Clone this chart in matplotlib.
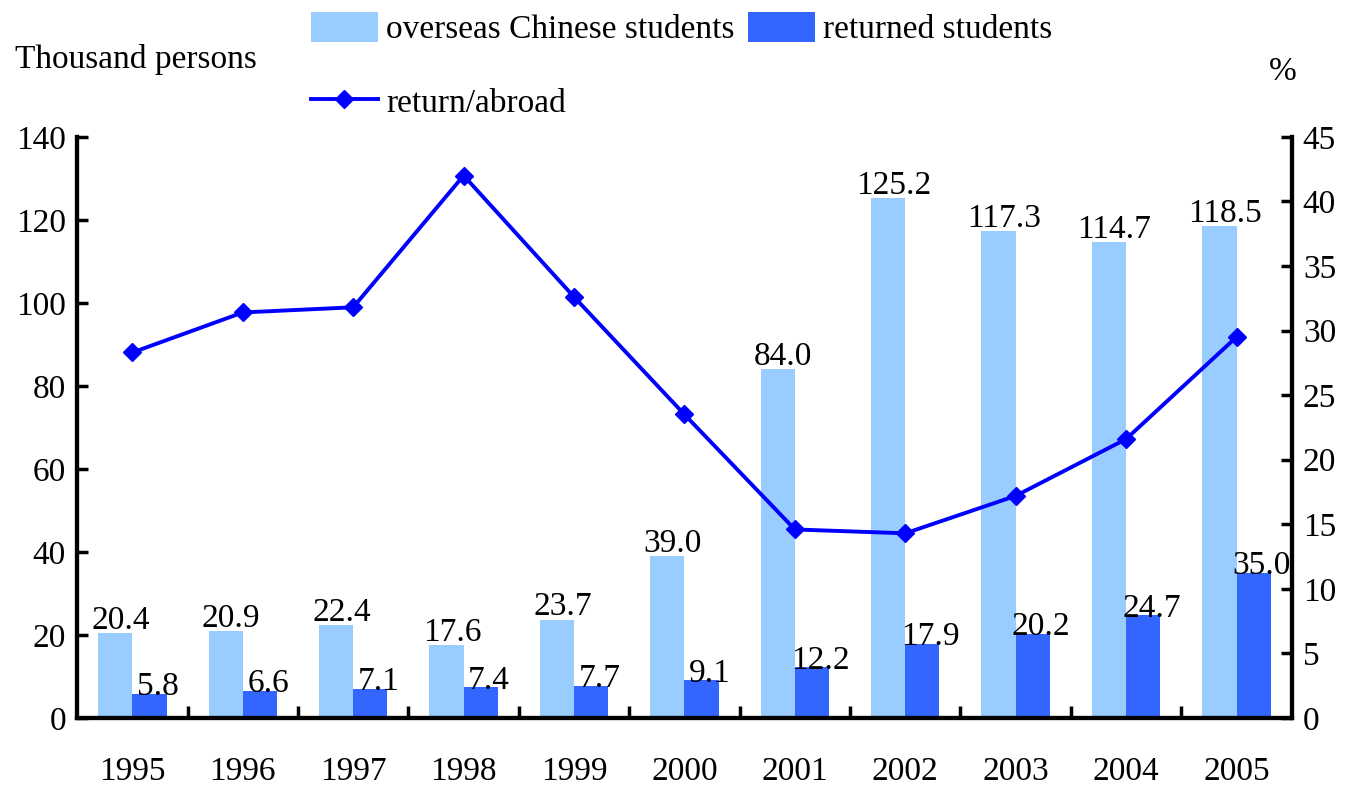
import numpy as np
import matplotlib
matplotlib.use("Agg")
import matplotlib.pyplot as plt
from matplotlib.ticker import MultipleLocator, FixedLocator

plt.rcParams['font.family'] = ['Liberation Serif', 'DejaVu Serif']

years = ['1995', '1996', '1997', '1998', '1999', '2000',
         '2001', '2002', '2003', '2004', '2005']
abroad = [20.4, 20.9, 22.4, 17.6, 23.7, 39.0, 84.0, 125.2, 117.3, 114.7, 118.5]
returned = [5.8, 6.6, 7.1, 7.4, 7.7, 9.1, 12.2, 17.9, 20.2, 24.7, 35.0]
ratio = [28.3, 31.4, 31.8, 42.0, 32.6, 23.5, 14.6, 14.3, 17.2, 21.6, 29.5]

light = '#99CCFF'
dark = '#3366FF'
fs = 24

fig = plt.figure(figsize=(13.54, 7.94), dpi=100)
ax = fig.add_axes([0.057, 0.0957, 0.897, 0.732])
ax2 = ax.twinx()

x = np.arange(len(years))
w = 0.31
b1 = ax.bar(x - w / 2, abroad, w, color=light, label='overseas Chinese students')
b2 = ax.bar(x + w / 2, returned, w, color=dark, label='returned students')

for xi, v in zip(x, abroad):
    ax.annotate(f'{v:.1f}', (xi - w / 2, v), xytext=(4, -2), textcoords='offset points',
                ha='center', va='bottom', fontsize=fs)
for xi, v in zip(x, returned):
    ax.annotate(f'{v:.1f}', (xi + w / 2, v), xytext=(6, -6), textcoords='offset points',
                ha='center', va='bottom', fontsize=fs)

ln, = ax2.plot(x, ratio, color='#0000FF', lw=2.8, marker='D', ms=9,
               label='return/abroad')

ax.set_xlim(-0.5, len(years) - 0.5)
ax.set_ylim(0, 140)
ax2.set_ylim(0, 45)
ax.yaxis.set_major_locator(MultipleLocator(20))
ax2.yaxis.set_major_locator(MultipleLocator(5))

ax.set_xticks(x)
ax.set_xticklabels(years, fontsize=fs)
ax.xaxis.set_minor_locator(FixedLocator(np.arange(0.5, len(years) - 1, 1)))
ax.tick_params(axis='x', which='major', length=0, pad=28)
ax.tick_params(axis='x', which='minor', direction='in', length=9, width=2.5)
ax.tick_params(axis='y', direction='in', length=8, width=2.5, labelsize=fs, pad=8)
ax2.tick_params(axis='y', direction='in', length=8, width=2.5, labelsize=fs, pad=8)

for a in (ax, ax2):
    a.spines['top'].set_visible(False)
    for s in ('left', 'right', 'bottom'):
        a.spines[s].set_linewidth(3)

fig.text(0.011, 0.925, 'Thousand persons', fontsize=fs, ha='left', va='center')
fig.text(0.937, 0.91, '%', fontsize=fs, ha='left', va='center')

fig.legend(handles=[b1, ln, b2], ncol=2, loc='upper left',
           bbox_to_anchor=(0.215, 1.01), frameon=False, fontsize=fs,
           handlelength=2.0, handleheight=1.0, handletextpad=0.25,
           columnspacing=0.4, labelspacing=1.2, borderaxespad=0.2)

fig.savefig('out.png', dpi=100)
